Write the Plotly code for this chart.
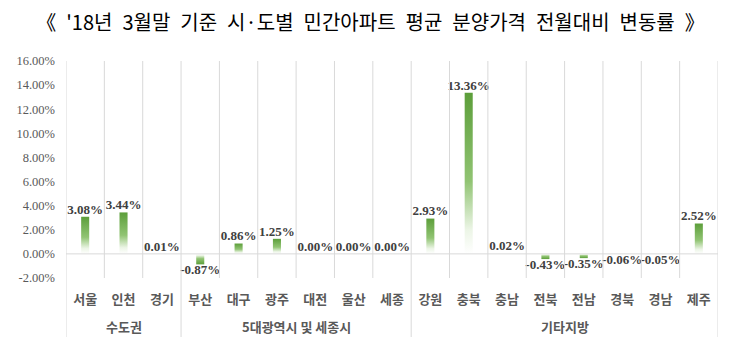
import plotly.graph_objects as go

categories = ["서울", "인천", "경기", "부산", "대구", "광주", "대전", "울산", "세종",
              "강원", "충북", "충남", "전북", "전남", "경북", "경남", "제주"]
values = [3.08, 3.44, 0.01, -0.87, 0.86, 1.25, 0.00, 0.00, 0.00,
          2.93, 13.36, 0.02, -0.43, -0.35, -0.06, -0.05, 2.52]
groups = ["수도권", "5대광역시 및 세종시", "기타지방"]
group_sizes = [3, 6, 8]
y_ticks = [-2, 0, 2, 4, 6, 8, 10, 12, 14, 16]
title_words = ["《", "'18년", "3월말", "기준", "시·도별", "민간아파트", "평균",
               "분양가격", "전월대비", "변동률", "》"]

BAR_W = 0.21
GREEN_SCALE = [[0, "rgba(255,255,255,1)"], [0.15, "rgb(236,245,230)"],
               [0.45, "rgb(145,196,115)"], [1, "rgb(92,158,58)"]]
GRID = "#d9d9d9"

fig = go.Figure()

for i, v in enumerate(values):
    if v == 0:
        continue
    fig.add_trace(go.Scatter(
        x=[i - BAR_W / 2, i + BAR_W / 2, i + BAR_W / 2, i - BAR_W / 2, i - BAR_W / 2],
        y=[0, 0, v, v, 0],
        mode="lines", fill="toself", line=dict(width=0),
        fillgradient=dict(type="vertical", colorscale=GREEN_SCALE, start=0, stop=v),
        hoverinfo="skip", showlegend=False,
    ))

# data labels
fig.add_trace(go.Scatter(
    x=list(range(len(values))), y=values, mode="text",
    text=[f"{v:.2f}%" for v in values],
    textposition=["bottom center" if v < 0 else "top center" for v in values],
    textfont=dict(family="Liberation Serif", size=13, color="#404040", weight="bold"),
    hoverinfo="skip", showlegend=False,
))

shapes = []
n = len(categories)
bounds = [0]
for s in group_sizes:
    bounds.append(bounds[-1] + s)
for k in range(n + 1):
    is_group = k in bounds
    shapes.append(dict(type="line", xref="x", yref="paper",
                       x0=k - 0.5, x1=k - 0.5, y0=1, y1=-0.272 if is_group else 0,
                       line=dict(color=GRID, width=1)))
shapes.append(dict(type="line", xref="paper", yref="y", x0=0, x1=1, y0=0, y1=0,
                   line=dict(color=GRID, width=1)))

annotations = []
for g, a, b in zip(groups, bounds[:-1], bounds[1:]):
    annotations.append(dict(x=(a + b - 1) / 2, xref="x", y=-0.225, yref="paper",
                            text=g, showarrow=False, yanchor="middle",
                            font=dict(family="Noto Sans CJK KR", size=13, color="#595959",
                                      weight="bold")))

fig.update_layout(
    width=741, height=354,
    margin=dict(l=66, r=23, t=61, b=76),
    paper_bgcolor="white", plot_bgcolor="white",
    title=dict(text="\u2002".join(title_words), x=0.5, xanchor="center", xref="container",
               y=1 - 23 / 354, yanchor="middle", yref="container",
               font=dict(family="Noto Sans CJK KR", size=20, color="#000000")),
    shapes=shapes, annotations=annotations,
    xaxis=dict(range=[-0.5, n - 0.5], tickvals=list(range(n)), ticktext=categories,
               showgrid=False, zeroline=False, showline=False, ticks="",
               ticklabelstandoff=12,
               tickfont=dict(family="Noto Sans CJK KR", size=13, color="#595959",
                             weight="bold")),
    yaxis=dict(range=[-2, 16], tickvals=y_ticks, ticktext=[f"{t:.2f}%" for t in y_ticks],
               showgrid=False, zeroline=False, showline=False, ticks="",
               ticklabelstandoff=10,
               tickfont=dict(family="Liberation Serif", size=12.5, color="#595959")),
)

fig.write_html("out.html")
